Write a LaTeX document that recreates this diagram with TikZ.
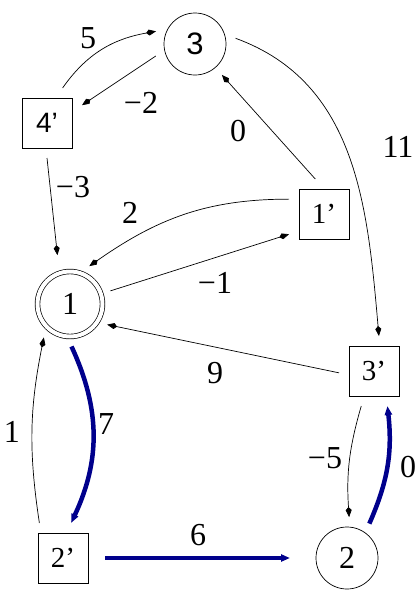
\documentclass[tikz,border=0pt]{standalone}
\usepackage{fontspec}
\setmainfont{Liberation Serif}
\setsansfont{Liberation Sans}
\usetikzlibrary{arrows.meta}
\definecolor{FlowBlue}{HTML}{00008C}

\begin{document}
\begin{tikzpicture}[x=1pt, y=-1pt,
  vert/.style={draw, circle, minimum size=62pt, inner sep=0pt, outer sep=10pt,
    line width=0.7pt, font=\fontsize{32}{36}\selectfont},
  dual/.style={draw, minimum size=50pt, inner sep=0pt, outer sep=10pt,
    line width=0.7pt, font=\fontsize{29}{34}\selectfont},
  link/.style={-{Kite[length=10pt,width=6pt,inset=3pt]}, line width=0.7pt},
  flow/.style={-{Triangle[length=9pt,width=7pt]}, line width=4.5pt, FlowBlue},
  cost/.style={font=\fontsize{32}{36}\selectfont}]
  \useasboundingbox (0,0) rectangle (419,590);
  % vertices
  \node[vert, font=\sffamily\fontsize{31}{36}\selectfont] (n3) at (195,44) {3};
  \node[vert, double, double distance=4pt, minimum size=65pt] (n1) at (70,304) {1};
  \node[vert] (n2) at (347,558) {2};
  \node[dual, font=\sffamily\fontsize{28}{34}\selectfont] (n4p) at (47,123) {4’};
  \node[dual] (n1p) at (324,214) {1’};
  \node[dual] (n3p) at (374,371) {3’};
  \node[dual] (n2p) at (63,558) {2’};
  % thin arcs
  \draw[link] (n4p.66) to[out=55, in=190] (n3.162);
  \draw[link] (n3.197) -- (n4p.27);
  \draw[link] (n1p.104) -- (n3.311);
  \draw[link] (n3.8) to[out=-20, in=95] (n3p.82);
  \draw[link, shorten >=8pt] (n4p.270) -- (n1.106);
  \draw[link] (n1p.157) to[out=180, in=35] (n1.63);
  \draw[link] (n1.18) -- (n1p.210);
  \draw[link] (n3p.183) -- (n1.331);
  \draw[link] (n2p.124) to[bend left=10] (n1.232);
  \draw[link] (n3p.250) to[bend right=10] (n2.87);
  % thick arcs
  \draw[flow] (n1.272) to[bend left=25] (n2p.77);
  \draw[flow] (n2.57) to[bend right=15] (n3p.291);
  \draw[flow, shorten <=7pt, shorten >=16pt] (n2p.east) -- (n2.west);
  % weights
  \node[cost] (w5) at (88,38) {5};
  \node[cost] (w3a) at (141,103) {−2};
  \node[cost] (w13) at (238,131) {0};
  \node[cost] (w33) at (398,147) {11};
  \node[cost] (w41) at (73,187) {−3};
  \node[cost] (w11a) at (130,213) {2};
  \node[cost] (w11b) at (215,283) {−1};
  \node[cost] (w31) at (215,373) {9};
  \node[cost] (w21) at (12,432) {1};
  \node[cost] (w12) at (106,424) {7};
  \node[cost] (w32) at (325,458) {−5};
  \node[cost] (w23) at (408,467) {0};
  \node[cost] (w22) at (198,535) {6};
\end{tikzpicture}
\end{document}
